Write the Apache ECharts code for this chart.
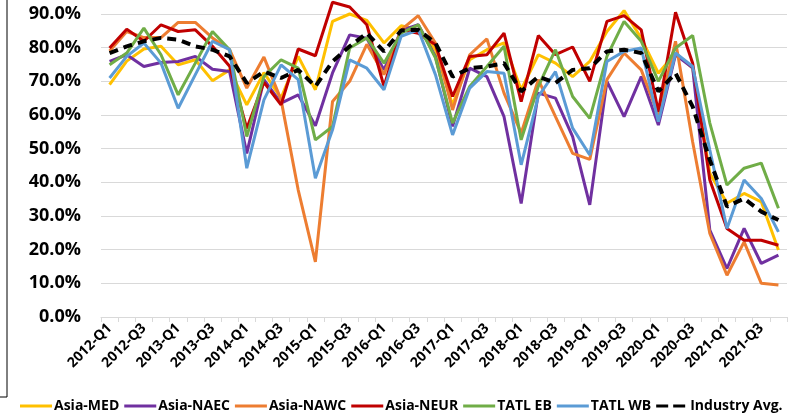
<!DOCTYPE html>
<html>
<head>
<meta charset="utf-8">
<script src="https://cdn.jsdelivr.net/npm/echarts@6/dist/echarts.min.js"></script>
<style>
    html, body { margin: 0; padding: 0; background: #fff; }
    #chart { width: 798px; height: 416px; }
</style>
</head>
<body>
<div id="chart"></div>
<script>
    // quarters 2012-Q1 .. 2021-Q4
    var quarters = [];
    for (var y = 2012; y <= 2021; y++) {
        for (var q = 1; q <= 4; q++) quarters.push(y + '-Q' + q);
    }

    // schedule reliability (%)
    var asiaMed  = [69, 76, 79.6, 80.4, 74.9, 76.4, 70.2, 73.4, 63, 72.6,
                    65, 77.4, 67.5, 87.8, 90, 88.1, 81.4, 86.5, 85.3, 79.4,
                    63, 76.4, 79.4, 81.4, 67.5, 77.9, 75.4, 71.4, 75.9, 84.8,
                    91, 82.8, 72.4, 78.4, 73.9, 42.7, 33.8, 36.7, 34.2, 19.9];
    var asiaNaec = [75.9, 77.9, 74.4, 75.6, 75.9, 77.4, 73.6, 72.9, 48.6, 70.5,
                    63.5, 66, 56.8, 72.5, 83.8, 82.8, 73.4, 85.1, 86.8, 77.4,
                    56.6, 73.9, 71.4, 59.5, 33.7, 66.5, 65, 53.6, 33.3, 70,
                    59.5, 71.4, 57, 77.9, 74, 25.8, 14.4, 26.3, 15.9, 18.4];
    var asiaNawc = [79, 84.8, 83, 83, 87.5, 87.5, 82.9, 79.4, 68, 77.2,
                    64.5, 37.7, 16.4, 64, 70, 81, 72, 85.3, 89.5, 81.4,
                    61.5, 77.9, 82.6, 66.5, 54.6, 70.5, 59.5, 48.6, 46.8, 70.5,
                    78.4, 73.4, 60, 81.9, 52, 24.8, 12.4, 22.3, 10, 9.5];
    var asiaNeur = [79.9, 85.5, 81.9, 86.8, 84.8, 85.3, 80.4, 74.5, 56, 69.7,
                    63, 79.6, 77.6, 93.5, 92.1, 86.8, 68.5, 85.3, 84.3, 80.9,
                    65.5, 77.4, 77.9, 84.3, 64, 83.6, 77.9, 80.2, 70, 87.8,
                    89.5, 85.3, 61, 90.5, 75.4, 40.7, 26.3, 22.8, 22.8, 21.3];
    var tatlEb   = [74.9, 78.4, 85.8, 77.9, 66, 75.4, 84.8, 79.4, 53.6, 71.4,
                    76.4, 73.9, 52.6, 56.6, 79.9, 82.9, 75.4, 84.3, 86.8, 77,
                    57.6, 68.5, 74.4, 80.4, 52.6, 68.5, 79.4, 65.5, 59, 77.4,
                    87.8, 81.9, 70, 79.9, 83.6, 57.6, 39.2, 44.2, 45.7, 32.3];
    var tatlWb   = [71, 77.4, 81.4, 75.4, 62, 72, 81.9, 79.4, 44.2, 64.5,
                    74.9, 70.5, 41.2, 55.6, 76.4, 73.9, 67.5, 83.4, 85.3, 72,
                    54.1, 68, 72.9, 72.4, 45.2, 65.5, 72.9, 56.1, 48.1, 75.9,
                    78.9, 79.9, 58, 78.4, 74.4, 49.6, 26.3, 40.7, 35.2, 25.3];
    var industry = [78.4, 80.4, 81.9, 82.9, 82.4, 80.4, 79.4, 77.4, 69.5, 72.9,
                    71, 73.4, 68.5, 75.9, 80.4, 84.3, 78.9, 85.1, 85.3, 81.4,
                    71.4, 73.9, 74.4, 75.4, 67, 71.4, 69.5, 73.4, 73.9, 78.9,
                    79.4, 78.4, 67, 72.4, 62.5, 46.6, 32.8, 35.2, 31.3, 28.8];

    var yTicks = [0, 10, 20, 30, 40, 50, 60, 70, 80, 90];

    var names  = ['Asia-MED', 'Asia-NAEC', 'Asia-NAWC', 'Asia-NEUR', 'TATL EB', 'TATL WB', 'Industry Avg.'];
    var colors = ['#FFC000', '#7030A0', '#ED7D31', '#C00000', '#70AD47', '#5B9BD5', '#000000'];
    var values = [asiaMed, asiaNaec, asiaNawc, asiaNeur, tatlEb, tatlWb, industry];

    var font = '"Open Sans", "DejaVu Sans", sans-serif';
    var solidIcon = 'path://M0,0h32v3h-32z';
    var dashIcon = 'path://M0,0h12v3h-12zM17,0h12v3h-12zM32,0h0.01v3h-0.01z';

    var series = names.map(function (n, i) {
        var dashed = i === 6;
        return {
            name: n,
            type: 'line',
            data: values[i],
            symbol: 'none',
            clip: false,
            z: dashed ? 10 : 2 + i,
            lineStyle: {
                color: colors[i],
                width: dashed ? 4 : 3,
                type: dashed ? [9, 6] : 'solid'
            },
            itemStyle: { color: colors[i] }
        };
    });

    var myChart = echarts.init(document.getElementById('chart'));
    var option = {
        animation: false,
        backgroundColor: '#fff',
        grid: { left: 101, right: 11, top: 14, bottom: 99 },
        legend: {
            data: names.map(function (n, i) {
                return { name: n, icon: i === 6 ? dashIcon : solidIcon };
            }),
            bottom: 3,
            left: 20,
            width: 778,
            padding: 0,
            itemGap: 5,
            itemWidth: 32,
            itemHeight: 3,
            textStyle: { fontFamily: font, fontWeight: 'bold', fontSize: 14, color: '#000', padding: [0, 0, 0, -3] }
        },
        xAxis: {
            type: 'category',
            data: quarters,
            boundaryGap: true,
            axisLine: { lineStyle: { color: '#d9d9d9', width: 1 } },
            axisTick: { show: true, interval: 0, length: 5, lineStyle: { color: '#d9d9d9' } },
            axisLabel: {
                interval: 1,
                rotate: 45,
                margin: 9,
                fontFamily: font,
                fontWeight: 'bold',
                fontSize: 14,
                color: '#000'
            }
        },
        yAxis: {
            type: 'value',
            min: yTicks[0],
            max: yTicks[yTicks.length - 1],
            interval: 10,
            axisLine: { show: false },
            axisTick: { show: false },
            splitLine: { lineStyle: { color: '#d9d9d9', width: 1 } },
            axisLabel: {
                margin: 20,
                fontFamily: font,
                fontWeight: 'bold',
                fontSize: 18,
                color: '#000',
                formatter: function (v) { return v.toFixed(1) + '%'; }
            }
        },
        graphic: [
            { type: 'polyline', shape: { points: [[7, 0], [7, 397], [0, 397]] }, style: { stroke: '#000', lineWidth: 1, fill: null } }
        ],
        series: series
    };
    myChart.setOption(option);
</script>
</body>
</html>
